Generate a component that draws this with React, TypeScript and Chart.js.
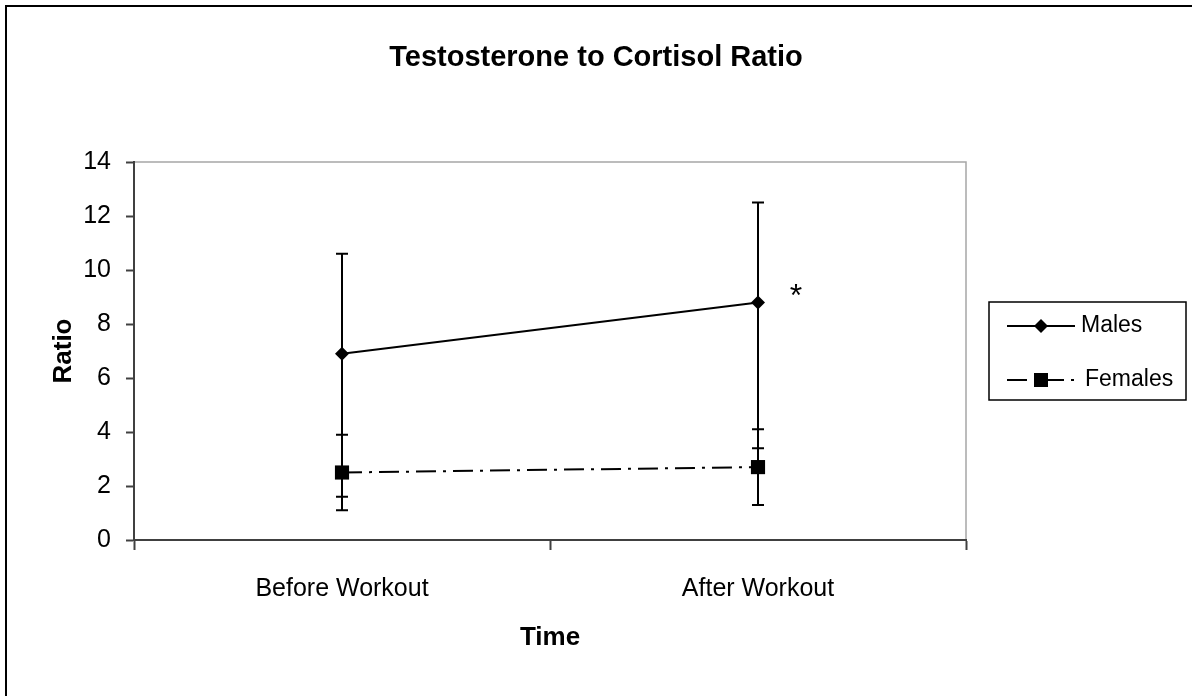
import React, { useEffect, useRef } from 'react';
import { Chart, registerables } from 'chart.js';

Chart.register(...registerables);

const categories = ['Before Workout', 'After Workout'];
const seriesLabels = ['Males', 'Females'];
const males = [6.9, 8.8];
const malesHigh = [10.6, 12.5];
const malesLow = [1.6, 3.4];
const females = [2.5, 2.7];
const femalesHigh = [3.9, 4.1];
const femalesLow = [1.1, 1.3];
const yTicks = [0, 2, 4, 6, 8, 10, 12, 14];
const significance = ['', '*'];

const FONT = "'Liberation Sans', Arial, sans-serif";

const framePlugin = {
  id: 'frame',
  beforeDraw(chart: any) {
    const { ctx, width, height } = chart;
    ctx.save();
    ctx.fillStyle = '#ffffff';
    ctx.fillRect(0, 0, width, height);
    ctx.strokeStyle = '#000000';
    ctx.lineWidth = 2;
    ctx.beginPath();
    ctx.moveTo(6, height + 5);
    ctx.lineTo(6, 6);
    ctx.lineTo(width + 5, 6);
    ctx.stroke();
    const a = chart.chartArea;
    ctx.strokeStyle = '#a6a6a6';
    ctx.lineWidth = 1.5;
    ctx.beginPath();
    ctx.moveTo(a.left, a.top);
    ctx.lineTo(a.right, a.top);
    ctx.lineTo(a.right, a.bottom);
    ctx.stroke();
    ctx.restore();
  },
};

const errorBarPlugin = {
  id: 'errorBars',
  beforeDatasetsDraw(chart: any) {
    const { ctx } = chart;
    const y = chart.scales.y;
    ctx.save();
    ctx.strokeStyle = '#000000';
    ctx.lineWidth = 2;
    chart.data.datasets.forEach((ds: any, i: number) => {
      const meta = chart.getDatasetMeta(i);
      meta.data.forEach((pt: any, j: number) => {
        const x = pt.x;
        const yh = y.getPixelForValue(ds.errHigh[j]);
        const yl = y.getPixelForValue(ds.errLow[j]);
        ctx.beginPath();
        ctx.moveTo(x, yh);
        ctx.lineTo(x, yl);
        ctx.moveTo(x - 6, yh);
        ctx.lineTo(x + 6, yh);
        ctx.moveTo(x - 6, yl);
        ctx.lineTo(x + 6, yl);
        ctx.stroke();
      });
    });
    ctx.restore();
  },
  afterDatasetsDraw(chart: any) {
    const { ctx } = chart;
    const y = chart.scales.y;
    const meta = chart.getDatasetMeta(0);
    ctx.save();
    ctx.fillStyle = '#000000';
    ctx.font = `32px ${FONT}`;
    ctx.textAlign = 'center';
    ctx.textBaseline = 'alphabetic';
    significance.forEach((s, j) => {
      if (!s) return;
      const pt = meta.data[j];
      ctx.fillText(s, pt.x + 38, y.getPixelForValue(males[j]) + 4);
    });
    ctx.restore();
  },
};

function drawMarker(ctx: any, style: string, x: number, y: number) {
  ctx.beginPath();
  if (style === 'rectRot') {
    ctx.moveTo(x, y - 7);
    ctx.lineTo(x + 7, y);
    ctx.lineTo(x, y + 7);
    ctx.lineTo(x - 7, y);
    ctx.closePath();
  } else {
    ctx.rect(x - 7, y - 7, 14, 14);
  }
  ctx.fill();
}

const legendPlugin = {
  id: 'customLegend',
  afterDraw(chart: any) {
    const { ctx } = chart;
    ctx.save();
    ctx.strokeStyle = '#000000';
    ctx.lineWidth = 1.5;
    ctx.strokeRect(989, 302, 197, 98);
    const rows = [326, 380];
    chart.data.datasets.forEach((ds: any, i: number) => {
      const ry = rows[i];
      ctx.strokeStyle = '#000000';
      ctx.lineWidth = 2;
      ctx.setLineDash(ds.borderDash || []);
      ctx.beginPath();
      ctx.moveTo(1007, ry);
      ctx.lineTo(i === 0 ? 1075 : 1080, ry);
      ctx.stroke();
      ctx.setLineDash([]);
      ctx.fillStyle = '#000000';
      drawMarker(ctx, ds.pointStyle, 1041, ry);
      ctx.font = `23px ${FONT}`;
      ctx.textAlign = 'left';
      ctx.textBaseline = 'middle';
      ctx.fillText(ds.label, i === 0 ? 1081 : 1085, ry);
    });
    ctx.restore();
  },
};

export default function App() {
  const ref = useRef<HTMLCanvasElement>(null);
  useEffect(() => {
    if (!ref.current) return;
    const chart = new Chart(ref.current, {
      type: 'line',
      data: {
        labels: categories,
        datasets: [
          {
            label: seriesLabels[0],
            data: males,
            errHigh: malesHigh,
            errLow: malesLow,
            borderColor: '#000000',
            backgroundColor: '#000000',
            borderWidth: 2,
            pointStyle: 'rectRot',
            pointRadius: 7,
            pointBorderWidth: 0,
            fill: false,
          } as any,
          {
            label: seriesLabels[1],
            data: females,
            errHigh: femalesHigh,
            errLow: femalesLow,
            borderColor: '#000000',
            backgroundColor: '#000000',
            borderWidth: 2,
            borderDash: [20, 7, 3, 7],
            pointStyle: 'rect',
            pointRadius: 10,
            pointBorderWidth: 0,
            fill: false,
          } as any,
        ],
      },
      options: {
        responsive: true,
        maintainAspectRatio: false,
        animation: false,
        layout: { padding: { left: 0, right: 0, top: 0, bottom: 0 } },
        plugins: {
          legend: { display: false },
          tooltip: { enabled: false },
          title: {
            display: true,
            text: 'Testosterone to Cortisol Ratio',
            color: '#000000',
            font: { family: FONT, size: 29, weight: 'bold', lineHeight: 1.2 },
            padding: { top: 41, bottom: 86.2 },
          },
        },
        scales: {
          x: {
            type: 'category',
            offset: true,
            afterFit(scale: any) {
              scale.height = 156;
            },
            grid: {
              offset: true,
              drawOnChartArea: false,
              drawTicks: true,
              tickLength: 10,
              tickWidth: 2,
              tickColor: '#404040',
            },
            border: { display: true, color: '#404040', width: 2 },
            ticks: {
              color: '#000000',
              padding: 24,
              maxRotation: 0,
              font: { family: FONT, size: 25 },
            },
            title: {
              display: true,
              text: 'Time',
              color: '#000000',
              font: { family: FONT, size: 26, weight: 'bold', lineHeight: 1.2 },
              padding: { top: 0, bottom: 43 },
            },
          },
          y: {
            min: 0,
            max: 14,
            afterFit(scale: any) {
              scale.width = 134;
            },
            afterBuildTicks(scale: any) {
              scale.ticks = yTicks.map((v) => ({ value: v }));
            },
            grid: {
              drawOnChartArea: false,
              drawTicks: true,
              tickLength: 8,
              tickWidth: 2,
              tickColor: '#404040',
            },
            border: { display: true, color: '#404040', width: 2 },
            ticks: {
              color: '#000000',
              padding: 15,
              font: { family: FONT, size: 25 },
            },
            title: {
              display: true,
              text: 'Ratio',
              color: '#000000',
              font: { family: FONT, size: 26, weight: 'bold', lineHeight: 1.2 },
              padding: { top: 48, bottom: 0 },
            },
          },
          legendSpace: {
            type: 'linear',
            position: 'right',
            display: true,
            afterFit(scale: any) {
              scale.width = 226;
            },
            grid: { display: false, drawTicks: false },
            border: { display: false },
            ticks: { display: false },
          },
        },
      },
      plugins: [framePlugin, errorBarPlugin, legendPlugin],
    });
    return () => chart.destroy();
  }, []);

  return (
    <div style={{ position: 'fixed', left: 0, top: 0, width: 1192, height: 696, background: '#fff' }}>
      <canvas ref={ref} />
    </div>
  );
}
